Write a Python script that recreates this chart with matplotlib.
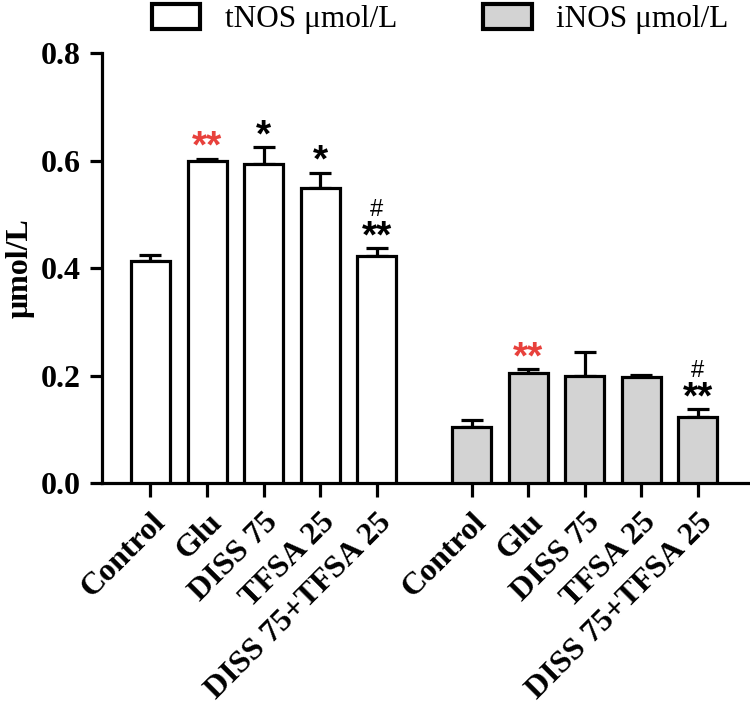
import matplotlib
matplotlib.use("Agg")
import matplotlib.pyplot as plt
import numpy as np

categories = ["Control", "Glu", "DISS 75", "TFSA 25", "DISS 75+TFSA 25"]
tnos = [0.413, 0.599, 0.593, 0.549, 0.423]
tnos_err = [0.011, 0.004, 0.032, 0.028, 0.014]
inos = [0.105, 0.205, 0.199, 0.197, 0.122]
inos_err = [0.013, 0.007, 0.045, 0.004, 0.015]
series_names = ["tNOS \u03bcmol/L", "iNOS \u03bcmol/L"]
yticks = [0.0, 0.2, 0.4, 0.6, 0.8]

# annotations: (group, index, text, color)
annotations = [
    (0, 1, "**", "#e8413c"), (0, 2, "*", "black"), (0, 3, "*", "black"),
    (0, 4, "**", "black"), (1, 1, "**", "#e8413c"), (1, 4, "**", "black"),
]
hash_marks = [(0, 4), (1, 4)]

serif = "Liberation Serif"
sans = "Liberation Sans"

fig = plt.figure(figsize=(7.5, 7.1), dpi=100)
ax = fig.add_axes([0.136, 0.3197, 0.861, 0.6056])

gap = 5.68
x1 = np.arange(5)
x2 = np.arange(5) + gap
w = 0.69
lw = 2.3

b1 = ax.bar(x1, tnos, width=w, color="white", edgecolor="black", linewidth=lw, zorder=3)
b2 = ax.bar(x2, inos, width=w, color="#d3d3d3", edgecolor="black", linewidth=lw, zorder=3)
ax.errorbar(x1, tnos, yerr=[np.zeros(5), tnos_err], fmt="none", ecolor="black",
            elinewidth=lw, capsize=8, capthick=lw, zorder=2)
ax.errorbar(x2, inos, yerr=[np.zeros(5), inos_err], fmt="none", ecolor="black",
            elinewidth=lw, capsize=8, capthick=lw, zorder=2)

ax.set_xlim(-0.857, 10.56)
ax.set_ylim(0, 0.8)
ax.set_yticks(yticks)
ax.set_yticklabels([f"{v:.1f}" for v in yticks], fontfamily=serif, fontweight="bold", fontsize=23)
ax.set_xticks(list(x1) + list(x2))
ax.set_xticklabels(categories + categories, fontfamily=serif, fontweight="bold", fontsize=23,
                   rotation=45, ha="right", va="top", rotation_mode="anchor")
for lab in ax.get_xticklabels():
    lab.set_transform(lab.get_transform() + matplotlib.transforms.ScaledTranslation(12/100, 0, fig.dpi_scale_trans))

for s in ["top", "right"]:
    ax.spines[s].set_visible(False)
for s in ["left", "bottom"]:
    ax.spines[s].set_linewidth(2.3)
ax.tick_params(axis="y", width=2.3, length=9, direction="out", pad=6)
ax.tick_params(axis="x", width=2.3, length=10, direction="out", pad=8)

ax.set_ylabel("\u03bcmol/L", fontfamily=serif, fontweight="bold", fontsize=23)
ax.yaxis.set_label_coords(-0.105, 0.5)

vals = [tnos, inos]
errs = [tnos_err, inos_err]
xs = [x1, x2]
for g, i, txt, col in annotations:
    top = vals[g][i] + errs[g][i]
    ax.text(xs[g][i], top + 0.002, txt, ha="center", va="baseline", fontfamily=sans,
            fontweight="bold", fontsize=28, color=col, zorder=4)
for g, i in hash_marks:
    top = vals[g][i] + errs[g][i]
    ax.text(xs[g][i], top + 0.06, "#", ha="center", va="baseline", fontfamily=sans,
            fontsize=17, color="black", zorder=4)

leg = fig.legend([b1, b2], series_names, loc="center", bbox_to_anchor=(0.587, 0.973),
                 ncol=2, frameon=False, prop={"family": serif, "size": 22.5},
                 handlelength=1.55, handleheight=0.87, handletextpad=0.8,
                 columnspacing=2.74, borderpad=0, borderaxespad=0)
for p in leg.get_patches():
    p.set_linewidth(3)

fig.savefig("out.png", dpi=100)
